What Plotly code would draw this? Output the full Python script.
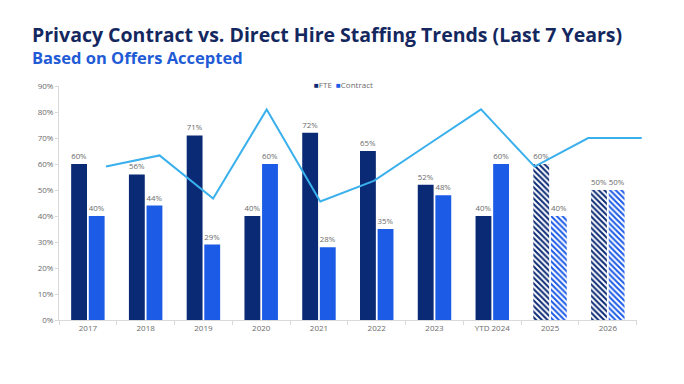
import plotly.graph_objects as go

categories = ["2017", "2018", "2019", "2020", "2021", "2022", "2023", "YTD 2024", "2025", "2026"]
fte = [0.60, 0.56, 0.71, 0.40, 0.72, 0.65, 0.52, 0.40, 0.60, 0.50]
contract = [0.40, 0.44, 0.29, 0.60, 0.28, 0.35, 0.48, 0.60, 0.40, 0.50]
projected = [False] * 8 + [True] * 2
trend = [0.59, 0.633, 0.467, 0.81, 0.456, 0.535, 0.673, 0.81, 0.59, 0.70, 0.70]
y_ticks = [0, 0.1, 0.2, 0.3, 0.4, 0.5, 0.6, 0.7, 0.8, 0.9]

NAVY = "#0b2a75"
BLUE = "#1c5be6"
LINE = "#3ab0ec"
GRAY = "#6b6b6b"
FONT = "Open Sans"

# page body has an 8px default margin, so figure coords = screen coords - 8
L, T = 51, 78
PW, PH = 589, 234

fig = go.Figure()


def add_series(values, name, color, group):
    for hatched in (False, True):
        xs = [c for c, p in zip(categories, projected) if p == hatched]
        ys = [v for v, p in zip(values, projected) if p == hatched]
        marker = dict(color=color, line=dict(width=0))
        if hatched:
            marker = dict(color=color, line=dict(width=0),
                          pattern=dict(shape="\\", size=4, solidity=0.5,
                                       fgcolor=color, bgcolor="white", fillmode="replace"))
        fig.add_trace(go.Bar(
            x=xs, y=ys, name=name, offsetgroup=group, showlegend=False,
            marker=marker,
            text=[f"{v:.0%}" for v in ys], textposition="outside",
            textfont=dict(size=8, color=GRAY, family=FONT), cliponaxis=False,
        ))


add_series(fte, "FTE", NAVY, "fte")
add_series(contract, "Contract", BLUE, "contract")

fig.add_trace(go.Scatter(
    x=list(range(len(trend))), y=trend, mode="lines",
    line=dict(color=LINE, width=2), showlegend=False,
    xaxis="x2", yaxis="y2", hoverinfo="skip",
))


def px_x(x):
    return (x - L) / PW


def px_y(y):
    return 1 + (T - y) / PH


fig.update_layout(
    width=684, height=384,
    margin=dict(l=L, r=684 - L - PW, t=T, b=384 - T - PH),
    paper_bgcolor="white", plot_bgcolor="rgba(0,0,0,0)",
    barmode="group", bargap=0.39, bargroupgap=0.1,
    showlegend=False,
    font=dict(family=FONT, color=GRAY, size=8),
    xaxis=dict(domain=[0, px_x(628.7)], categoryorder="array", categoryarray=categories,
               showline=True, linecolor="#d9d9d9", linewidth=1,
               ticks="outside", ticklen=4, tickcolor="#d9d9d9", tickson="boundaries",
               tickfont=dict(size=8, color=GRAY), showgrid=False),
    yaxis=dict(range=[0, 0.9], tickvals=y_ticks, tickformat=".0%", showline=True,
               linecolor="#d9d9d9", linewidth=1, ticks="outside", ticklen=3,
               tickcolor="#d9d9d9", showgrid=False, zeroline=False,
               tickfont=dict(size=8, color=GRAY)),
    xaxis2=dict(domain=[px_x(92.6), px_x(639.1)], range=[-0.1, 10.1], visible=False, anchor="y2"),
    yaxis2=dict(domain=[0, 1], range=[0, 0.9], visible=False, anchor="x2"),
    annotations=[
        dict(text="<b>Privacy Contract vs. Direct Hire Staffing Trends (Last 7 Years)</b>",
             xref="paper", yref="paper", x=px_x(22), y=px_y(27),
             xanchor="left", yanchor="middle", showarrow=False,
             font=dict(family=FONT, size=19.5, color="#14285f")),
        dict(text="<b>Based on Offers Accepted</b>",
             xref="paper", yref="paper", x=px_x(22), y=px_y(49),
             xanchor="left", yanchor="middle", showarrow=False,
             font=dict(family=FONT, size=16.5, color="#1f5bd6")),
        dict(text=f"<span style='color:{NAVY}'>■</span>FTE  <span style='color:{BLUE}'>■</span>Contract",
             xref="paper", yref="paper", x=px_x(335), y=px_y(76),
             xanchor="center", yanchor="middle", showarrow=False,
             font=dict(family=FONT, size=8, color=GRAY)),
    ],
)

fig.write_html("out.html")
